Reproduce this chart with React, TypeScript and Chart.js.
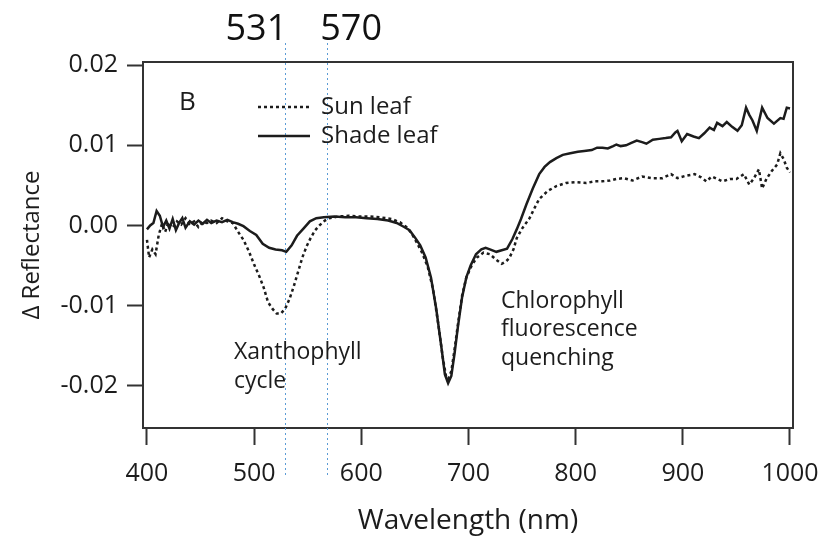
import React, { useEffect, useRef } from "react";
import { Chart, registerables } from "chart.js";

Chart.register(...registerables);

// ---- data ----
const shadeWl = [400, 403, 406, 409, 412, 415, 418, 421, 424, 427, 430, 433, 436, 440, 444, 448, 452, 456, 460, 465, 470, 475, 480, 485, 490, 496, 502, 508, 514, 520, 526, 530, 535, 540, 546, 552, 558, 565, 575, 585, 595, 605, 615, 625, 633, 640, 645, 650, 655, 660, 665, 670, 675, 678, 681, 684, 687, 690, 694, 698, 702, 707, 712, 716, 720, 726, 731, 736, 741, 745, 749, 754, 760, 766, 771, 776, 782, 788, 795, 802, 808, 815, 820, 825, 830, 835, 838, 842, 847, 852, 857, 862, 866, 872, 878, 884, 889, 893, 895, 899, 904, 910, 915, 920, 925, 929, 932, 937, 941, 946, 951, 955, 959, 962, 965, 969, 974, 979, 985, 991, 994, 997, 1000];
const shadeVals = [-0.0005, 0.0, 0.0003, 0.0018, 0.0012, -0.0002, 0.0006, -0.0004, 0.0008, -0.0006, 0.0003, 0.0009, -0.0003, 0.0005, 0.0001, 0.0006, 0.0002, 0.0007, 0.0003, 0.0006, 0.0004, 0.0007, 0.0004, 0.0002, -0.0001, -0.0007, -0.0012, -0.0023, -0.0028, -0.003, -0.0031, -0.0033, -0.0025, -0.0013, -0.0004, 0.0005, 0.0009, 0.001, 0.0011, 0.001, 0.001, 0.0009, 0.0008, 0.0006, 0.0003, -0.0002, -0.0006, -0.0015, -0.0025, -0.004, -0.0065, -0.0105, -0.0155, -0.0186, -0.0197, -0.0188, -0.016, -0.0128, -0.009, -0.0065, -0.005, -0.0036, -0.003, -0.0028, -0.003, -0.0033, -0.0031, -0.0029, -0.0017, -0.0005, 0.0008, 0.0026, 0.0046, 0.0064, 0.0073, 0.0079, 0.0084, 0.0088, 0.009, 0.0092, 0.0093, 0.0094, 0.0097, 0.0097, 0.0096, 0.0099, 0.0101, 0.0099, 0.01, 0.0103, 0.0106, 0.0104, 0.0102, 0.0107, 0.0108, 0.0109, 0.011, 0.0116, 0.0118, 0.0105, 0.0114, 0.0111, 0.0109, 0.0115, 0.0122, 0.0119, 0.0128, 0.0124, 0.0129, 0.0123, 0.0118, 0.0125, 0.0147, 0.0138, 0.0131, 0.0118, 0.0147, 0.0134, 0.0127, 0.0134, 0.0133, 0.0147, 0.0146];

const sunWl = [400, 402, 405, 408, 411, 414, 417, 420, 424, 428, 432, 436, 440, 444, 448, 452, 456, 460, 465, 470, 475, 480, 485, 490, 495, 500, 505, 509, 513, 517, 521, 525, 529, 533, 537, 541, 545, 549, 553, 557, 561, 566, 570, 578, 588, 598, 608, 618, 628, 636, 642, 647, 652, 657, 662, 667, 672, 676, 679, 681, 684, 687, 690, 694, 698, 703, 708, 714, 720, 726, 731, 735, 738, 742, 745, 750, 757, 761, 766, 774, 782, 791, 800, 810, 818, 825, 832, 838, 845, 853, 862, 871, 881, 889, 895, 903, 911, 917, 922, 927, 932, 937, 944, 950, 957, 962, 966, 971, 974, 978, 983, 988, 991, 994, 997, 1000];
const sunVals = [-0.0018, -0.004, -0.003, -0.0036, -0.0012, 0.0002, -0.0008, 0.0004, -0.0003, 0.0005, 0.0001, 0.0009, 0.0002, 0.0005, -0.0002, 0.0004, 0.0003, 0.0006, 0.0003, 0.0009, 0.0005, 0.0003, -0.0008, -0.0018, -0.0032, -0.0049, -0.0064, -0.0078, -0.0096, -0.0104, -0.011, -0.011, -0.0104, -0.0092, -0.0076, -0.0058, -0.004, -0.0026, -0.0015, -0.0006, 0.0, 0.0006, 0.0009, 0.0011, 0.0012, 0.0011, 0.0011, 0.001, 0.0008, 0.0004, -0.0002, -0.001, -0.0022, -0.0035, -0.0052, -0.008, -0.0125, -0.0165, -0.0188, -0.0192, -0.0182, -0.0155, -0.0125, -0.0088, -0.0065, -0.005, -0.004, -0.0034, -0.0036, -0.0043, -0.0048, -0.0045, -0.0041, -0.003, -0.0016, -0.0004, 0.0009, 0.002, 0.0033, 0.0043, 0.0049, 0.0053, 0.0054, 0.0053, 0.0055, 0.0055, 0.0056, 0.0058, 0.0059, 0.0056, 0.0061, 0.0059, 0.0059, 0.0064, 0.0059, 0.0062, 0.0064, 0.006, 0.0055, 0.0061, 0.0058, 0.0055, 0.0058, 0.0058, 0.0064, 0.0051, 0.0058, 0.007, 0.0046, 0.0058, 0.0068, 0.0076, 0.009, 0.0083, 0.0072, 0.0066];

const xTicks = [400, 500, 600, 700, 800, 900, 1000];
const yTicks = [-0.02, -0.01, 0.0, 0.01, 0.02];
const markerWl = [531, 570];
const seriesLabels = ["Sun leaf", "Shade leaf"];
const panelLabel = "B";
const xTitle = "Wavelength (nm)";
const yTitle = "\u0394 Reflectance";
const annoXanthophyll = ["Xanthophyll", "cycle"];
const annoChlorophyll = ["Chlorophyll", "fluorescence", "quenching"];

const FONT = '"Open Sans", "Noto Sans", sans-serif';
const INK = "#1c1c1c";

const overlayPlugin = {
  id: "overlay",
  afterDraw(chart: any) {
    const { ctx, chartArea, scales } = chart;
    const xs = scales.x;
    const ys = scales.y;
    ctx.save();
    // box top & right
    ctx.strokeStyle = "#333";
    ctx.lineWidth = 2;
    ctx.beginPath();
    ctx.moveTo(chartArea.left, chartArea.top);
    ctx.lineTo(chartArea.right, chartArea.top);
    ctx.lineTo(chartArea.right, chartArea.bottom);
    ctx.stroke();

    // marker lines
    ctx.strokeStyle = "#5b9bd5";
    ctx.lineWidth = 1;
    ctx.setLineDash([2, 3]);
    markerWl.forEach((w) => {
      const px = Math.round(xs.getPixelForValue(w)) - 2 + 0.5;
      ctx.beginPath();
      ctx.moveTo(px, 43);
      ctx.lineTo(px, 476);
      ctx.stroke();
    });
    ctx.setLineDash([]);

    // marker labels
    ctx.fillStyle = "#111";
    ctx.font = `36px ${FONT}`;
    ctx.textBaseline = "alphabetic";
    ctx.textAlign = "center";
    ctx.fillText(String(markerWl[0]), xs.getPixelForValue(markerWl[0]) - 31, 40);
    ctx.fillText(String(markerWl[1]), xs.getPixelForValue(markerWl[1]) + 22, 40);

    // panel label
    ctx.fillStyle = INK;
    ctx.font = `26px ${FONT}`;
    ctx.textAlign = "left";
    ctx.textBaseline = "middle";
    ctx.fillText(panelLabel, 179, 103);

    // legend
    const ds = chart.data.datasets;
    const legY = [107, 136];
    ds.forEach((d: any, i: number) => {
      ctx.strokeStyle = INK;
      ctx.lineWidth = 2.5;
      ctx.setLineDash(d.borderDash || []);
      ctx.beginPath();
      ctx.moveTo(258, legY[i]);
      ctx.lineTo(310, legY[i]);
      ctx.stroke();
      ctx.setLineDash([]);
      ctx.fillStyle = INK;
      ctx.font = `24px ${FONT}`;
      ctx.fillText(d.label, 321, legY[i]);
    });

    // annotations
    ctx.font = `23px ${FONT}`;
    ctx.fillStyle = INK;
    annoXanthophyll.forEach((t, i) => ctx.fillText(t, 234, 352 + i * 29));
    annoChlorophyll.forEach((t, i) => ctx.fillText(t, 501, 301 + i * 28.5));

    // axis titles
    ctx.font = `28px ${FONT}`;
    ctx.textAlign = "center";
    ctx.fillText(xTitle, 468, 521);
    ctx.save();
    ctx.translate(32, (ys.top + ys.bottom) / 2);
    ctx.rotate(-Math.PI / 2);
    ctx.font = `24px ${FONT}`;
    ctx.fillText(yTitle, 0, 0);
    ctx.restore();
    ctx.restore();
  },
};

export default function App() {
  const ref = useRef<HTMLCanvasElement | null>(null);
  useEffect(() => {
    document.body.style.margin = "0";
    const canvas = ref.current!;
    const chart = new Chart(canvas, {
      type: "line",
      data: {
        datasets: [
          {
            label: seriesLabels[0],
            data: sunWl.map((w, i) => ({ x: w, y: sunVals[i] })),
            borderColor: INK,
            borderWidth: 2.5,
            borderDash: [3, 3],
            pointRadius: 0,
            tension: 0,
            fill: false,
          },
          {
            label: seriesLabels[1],
            data: shadeWl.map((w, i) => ({ x: w, y: shadeVals[i] })),
            borderColor: INK,
            borderWidth: 2.5,
            pointRadius: 0,
            tension: 0,
            fill: false,
          },
        ],
      },
      options: {
        responsive: false,
        animation: false,
        layout: { padding: { top: 62, right: 46, left: 0, bottom: 0 } },
        plugins: { legend: { display: false }, tooltip: { enabled: false } },
        scales: {
          x: {
            type: "linear",
            min: 396.3,
            max: 1002.8,
            afterFit: (s: any) => { s.height = 111; },
            afterBuildTicks: (s: any) => { s.ticks = xTicks.map((v) => ({ value: v })); },
            grid: { drawOnChartArea: false, drawTicks: true, tickLength: 17, tickColor: "#333", tickWidth: 2 },
            border: { display: true, color: "#333", width: 2 },
            ticks: { color: INK, font: { family: FONT, size: 25 }, padding: 14, maxRotation: 0, autoSkip: false, callback: (v: any) => String(v) },
          },
          y: {
            type: "linear",
            min: -0.0253,
            max: 0.0204,
            afterFit: (s: any) => { s.width = 143; },
            afterBuildTicks: (s: any) => { s.ticks = yTicks.map((v) => ({ value: v })); },
            grid: { drawOnChartArea: false, drawTicks: true, tickLength: 16, tickColor: "#333", tickWidth: 2 },
            border: { display: true, color: "#333", width: 2 },
            ticks: { color: INK, font: { family: FONT, size: 25 }, padding: 9, autoSkip: false, callback: (v: any) => Number(v).toFixed(2) },
          },
        },
      },
      plugins: [overlayPlugin],
    });
    return () => chart.destroy();
  }, []);
  return (
    <div style={{ position: "absolute", left: 0, top: 0, width: 839, height: 539, background: "#fff" }}>
      <canvas ref={ref} width={839} height={539} style={{ width: 839, height: 539, display: "block" }} />
    </div>
  );
}
